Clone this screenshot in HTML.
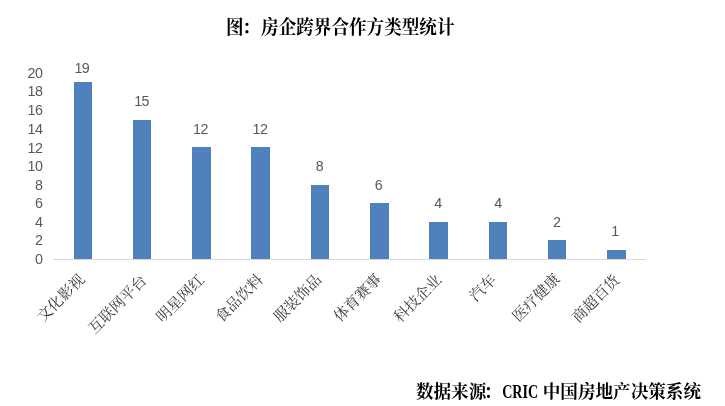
<!DOCTYPE html>
<html lang="zh-CN">
<head>
<meta charset="utf-8">
<title>图：房企跨界合作方类型统计</title>
<style>
html,body{margin:0;padding:0;background:#fff;}
body{width:725px;height:406px;overflow:hidden;position:relative;}
svg{display:block;position:absolute;left:0;top:0;}
.title{font-family:"Liberation Serif","Noto Serif CJK SC",serif;font-weight:bold;font-size:17.6px;fill:#000;}
.foot{font-family:"Liberation Serif","Noto Serif CJK SC",serif;font-weight:bold;font-size:17.6px;fill:#000;}
.num{font-family:"Liberation Sans", sans-serif;font-size:14.3px;fill:#595959;letter-spacing:-0.6px;}
.cat{font-family:"Liberation Serif", "Noto Serif CJK SC", serif;font-size:15.0px;fill:#3c3c3c;}
.bar{fill:#4f81bd;shape-rendering:crispEdges;}
.axis{fill:#d9d9d9;shape-rendering:crispEdges;}
</style>
</head>
<body>
<svg width="725" height="406" viewBox="0 0 725 406">
<rect x="0" y="0" width="725" height="406" fill="#ffffff"/>
<g transform="translate(0 -1.844) scale(1 1.08)"><text class="title" x="340.2" y="33.0" text-anchor="middle">图<tspan dx="-1.2">：</tspan><tspan dx="1.2">房企跨界合作方类型统计</tspan></text></g>
<g class="yaxis">
<text class="num" x="42.3" y="264.1" text-anchor="end">0</text>
<text class="num" x="42.3" y="245.1" text-anchor="end">2</text>
<text class="num" x="42.3" y="226.5" text-anchor="end">4</text>
<text class="num" x="42.3" y="208" text-anchor="end">6</text>
<text class="num" x="42.3" y="189.5" text-anchor="end">8</text>
<text class="num" x="42.3" y="171" text-anchor="end">10</text>
<text class="num" x="42.3" y="152.5" text-anchor="end">12</text>
<text class="num" x="42.3" y="133.5" text-anchor="end">14</text>
<text class="num" x="42.3" y="115" text-anchor="end">16</text>
<text class="num" x="42.3" y="96.2" text-anchor="end">18</text>
<text class="num" x="42.3" y="78.2" text-anchor="end">20</text>
</g>
<g class="bars">
<rect class="bar" x="74" y="82" width="18" height="177"/>
<rect class="bar" x="133" y="120" width="18" height="139"/>
<rect class="bar" x="192" y="147" width="19" height="112"/>
<rect class="bar" x="251" y="147" width="19" height="112"/>
<rect class="bar" x="311" y="185" width="18" height="74"/>
<rect class="bar" x="370" y="203" width="19" height="56"/>
<rect class="bar" x="429" y="222" width="19" height="37"/>
<rect class="bar" x="489" y="222" width="18" height="37"/>
<rect class="bar" x="548" y="240" width="18" height="19"/>
<rect class="bar" x="607" y="250" width="19" height="9"/>
</g>
<rect class="axis" x="53" y="259" width="593" height="1"/>
<g class="datalabels">
<text class="num" x="81.85" y="73.2" text-anchor="middle">19</text>
<text class="num" x="141.55" y="106.1" text-anchor="middle">15</text>
<text class="num" x="200.45" y="134.2" text-anchor="middle">12</text>
<text class="num" x="259.95" y="134.2" text-anchor="middle">12</text>
<text class="num" x="319.35" y="171.1" text-anchor="middle">8</text>
<text class="num" x="378.55" y="189.7" text-anchor="middle">6</text>
<text class="num" x="437.85" y="208.2" text-anchor="middle">4</text>
<text class="num" x="498.05" y="208.2" text-anchor="middle">4</text>
<text class="num" x="556.65" y="227.2" text-anchor="middle">2</text>
<text class="num" x="615.05" y="236.3" text-anchor="middle">1</text>
</g>
<g class="cats">
<text class="cat" transform="translate(85.70 280.40) rotate(-45)" text-anchor="end">文化影视</text>
<text class="cat" transform="translate(147.68 281.50) rotate(-45)" text-anchor="end">互联网平台</text>
<text class="cat" transform="translate(205.01 280.80) rotate(-45)" text-anchor="end">明星网红</text>
<text class="cat" transform="translate(263.94 280.70) rotate(-45)" text-anchor="end">食品饮料</text>
<text class="cat" transform="translate(322.32 280.60) rotate(-45)" text-anchor="end">服装饰品</text>
<text class="cat" transform="translate(382.40 280.15) rotate(-45)" text-anchor="end">体育赛事</text>
<text class="cat" transform="translate(442.48 280.70) rotate(-45)" text-anchor="end">科技企业</text>
<text class="cat" transform="translate(497.06 281.00) rotate(-45)" text-anchor="end">汽车</text>
<text class="cat" transform="translate(560.84 280.00) rotate(-45)" text-anchor="end">医疗健康</text>
<text class="cat" transform="translate(620.72 281.10) rotate(-45)" text-anchor="end">商超百货</text>
</g>
<g transform="translate(0 -19.075) scale(1 1.05)"><text class="foot" y="397.5"><tspan x="415.9">数据来源</tspan><tspan dx="-2.6">：</tspan><tspan class="lat" x="502.2" textLength="36" lengthAdjust="spacingAndGlyphs">CRIC</tspan><tspan x="701" text-anchor="end"> 中国房地产决策系统</tspan></text></g>
</svg>
</body>
</html>
